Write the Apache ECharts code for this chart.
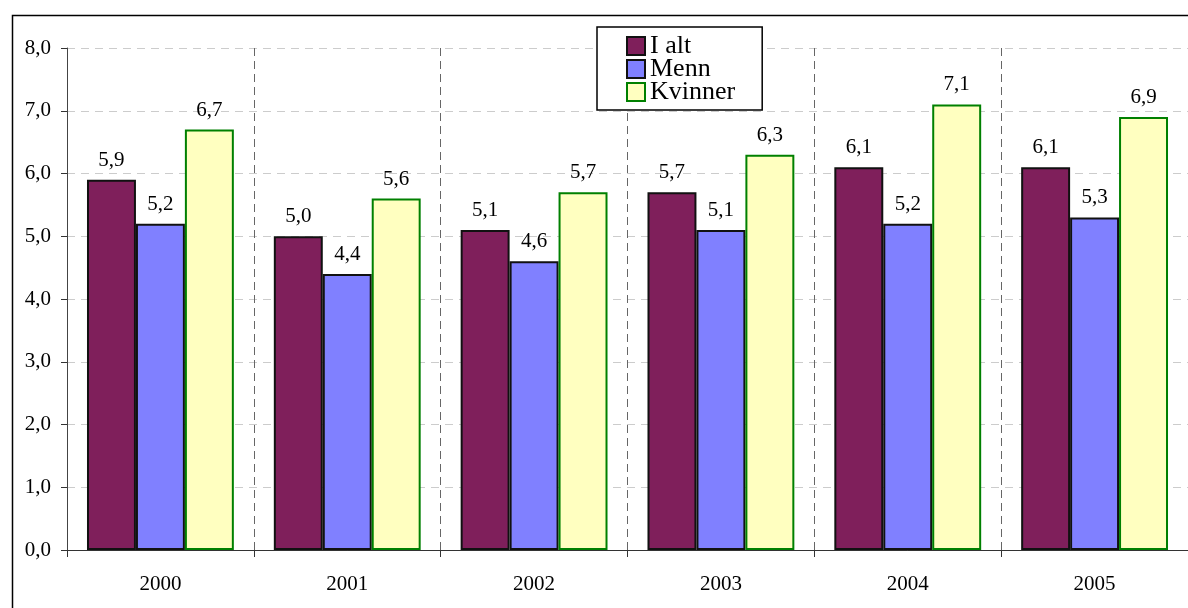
<!DOCTYPE html>
<html><head><meta charset="utf-8">
<script src="https://cdn.jsdelivr.net/npm/echarts@6/dist/echarts.min.js"></script>
<style>html,body{margin:0;padding:0;background:#fff}#c{width:1188px;height:608px}</style>
</head><body><div id="c"></div>
<script>
const categories = ['2000','2001','2002','2003','2004','2005'];
const iAlt = [5.9, 5.0, 5.1, 5.7, 6.1, 6.1];
const menn = [5.2, 4.4, 4.6, 5.1, 5.2, 5.3];
const kvinner = [6.7, 5.6, 5.7, 6.3, 7.1, 6.9];
const seriesNames = ['I alt', 'Menn', 'Kvinner'];

const FONT = "'Liberation Serif','Times New Roman',serif";
const fmt = v => Number(v).toFixed(1).replace('.', ',');
const chart = echarts.init(document.getElementById('c'), null, {renderer: 'canvas'});

function bar(name, data, color, border) {
  return {
    name, type: 'bar', data,
    barGap: '0%', barCategoryGap: '21.4%',
    itemStyle: {color, borderColor: border, borderWidth: 2},
    label: {show: true, position: 'top', distance: 9, formatter: p => fmt(p.value),
      fontFamily: FONT, fontSize: 21, color: '#000'}
  };
}

chart.setOption({
  animation: false,
  backgroundColor: '#fff',
  graphic: [{type: 'rect', left: 10, top: 13, shape: {width: 1300, height: 800},
    style: {fill: 'none', stroke: '#000', lineWidth: 1.5}, silent: true, z: -10}],
  grid: {left: 67, top: 48, width: 1122, bottom: 58, containLabel: false},
  legend: {
    orient: 'vertical', left: 597, top: 27,
    data: seriesNames,
    backgroundColor: '#fff', borderColor: '#000', borderWidth: 1.5,
    padding: [6, 27, 5, 29], itemGap: -3, itemWidth: 18, itemHeight: 18,
    icon: 'rect',
    textStyle: {fontFamily: FONT, fontSize: 26, lineHeight: 21, color: '#000'}
  },
  xAxis: {
    type: 'category', data: categories,
    axisLine: {lineStyle: {color: '#333', width: 1}},
    axisTick: {show: true, length: 7, lineStyle: {color: '#333'}},
    axisLabel: {fontFamily: FONT, fontSize: 21, color: '#000', margin: 24},
    splitLine: {show: true, lineStyle: {color: '#666', type: [8, 5], width: 1}}
  },
  yAxis: {
    type: 'value', min: 0, max: 8, interval: 1,
    axisLine: {show: true, lineStyle: {color: '#444', width: 1}},
    axisTick: {show: true, length: 6, lineStyle: {color: '#333'}},
    axisLabel: {fontFamily: FONT, fontSize: 21, color: '#000', margin: 16, formatter: fmt},
    splitLine: {show: true, lineStyle: {color: '#ccc', type: [8, 6], width: 1}}
  },
  series: [
    bar('I alt', iAlt, '#7f1f5b', '#111'),
    bar('Menn', menn, '#8080ff', '#111'),
    bar('Kvinner', kvinner, '#ffffc0', '#008000')
  ]
});
</script></body></html>
